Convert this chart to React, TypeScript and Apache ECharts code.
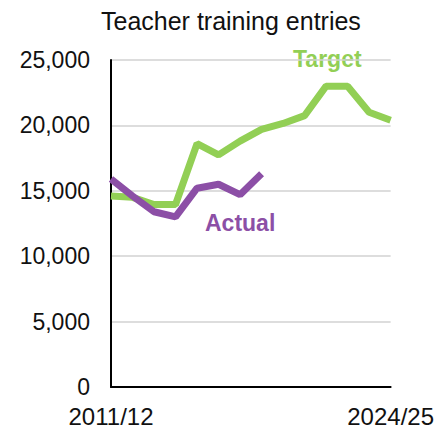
import React, { useEffect, useRef } from "react";
import * as echarts from "echarts";

const categories = [
  "2011/12", "2012/13", "2013/14", "2014/15", "2015/16", "2016/17", "2017/18",
  "2018/19", "2019/20", "2020/21", "2021/22", "2022/23", "2023/24", "2024/25",
];
const targetValues = [14600, 14500, 13950, 13950, 18600, 17750, 18800, 19700, 20150, 20750, 23000, 23000, 21000, 20400];
const actualValues = [15900, 14600, 13400, 13000, 15200, 15500, 14700, 16300];
const yTicks = [0, 5000, 10000, 15000, 20000, 25000];

export default function App() {
  const ref = useRef<HTMLDivElement>(null);
  useEffect(() => {
    if (!ref.current) return;
    const chart = echarts.init(ref.current, null, { renderer: "svg" });
    const font = "Liberation Sans, Arial, sans-serif";
    chart.setOption({
      animation: false,
      title: {
        text: "Teacher training entries",
        left: 96,
        top: 3,
        textStyle: { fontFamily: font, fontSize: 25, fontWeight: "normal", color: "#111" },
      },
      grid: { left: 111, right: 44, top: 60, bottom: 41 },
      xAxis: {
        type: "category",
        data: categories,
        boundaryGap: false,
        axisLine: { lineStyle: { color: "#000", width: 2 } },
        axisTick: { show: false },
        axisLabel: {
          interval: 12,
          fontFamily: font,
          fontSize: 24,
          color: "#111",
          margin: 17,
        },
      },
      yAxis: {
        type: "value",
        min: yTicks[0],
        max: yTicks[yTicks.length - 1],
        interval: 5000,
        axisLine: { show: true, lineStyle: { color: "#000", width: 2 } },
        axisTick: { show: false },
        splitLine: { lineStyle: { color: "#d2d2d2", width: 1.5 } },
        axisLabel: {
          fontFamily: font,
          fontSize: 23,
          color: "#111",
          margin: 21,
          formatter: (v: number) => v.toLocaleString("en-US"),
        },
      },
      series: [
        {
          name: "Target",
          type: "line",
          data: targetValues,
          symbol: "none",
          lineStyle: { color: "#92cf55", width: 7 },
        },
        {
          name: "Actual",
          type: "line",
          data: actualValues,
          symbol: "none",
          lineStyle: { color: "#8c4fa6", width: 7 },
        },
      ],
      graphic: [
        {
          type: "text",
          left: 293,
          top: 47,
          style: { text: "Target", font: `bold 23px ${font}`, fill: "#92cf55" },
        },
        {
          type: "text",
          left: 205,
          top: 211,
          style: { text: "Actual", font: `bold 23px ${font}`, fill: "#8c4fa6" },
        },
      ],
    });
    return () => chart.dispose();
  }, []);
  return <div ref={ref} style={{ width: 437, height: 428, position: "absolute", left: 0, top: 0 }} />;
}
